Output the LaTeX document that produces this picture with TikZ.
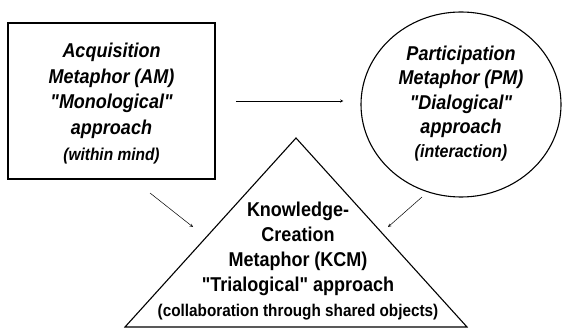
\documentclass[tikz,border=0pt]{standalone}
\usepackage{fontspec}
\setmainfont{Liberation Sans}[Ligatures=TeXOff, FakeStretch=0.9]
\usepackage{tikz}
\usetikzlibrary{shapes.geometric, arrows, positioning, calc}

\tikzstyle{metabox} = [rectangle, minimum width=207pt, minimum height=156pt, inner sep=0pt, align=center, draw=black, line width=1.6pt, text height=123pt, text depth=4pt, font=\fontsize{20}{25.75}\selectfont\bfseries\itshape]
\tikzstyle{metacircle} = [ellipse, minimum width=200pt, minimum height=185pt, inner sep=0pt, align=center, draw=black, line width=1.1pt, text height=110.2pt, text depth=3.4pt, font=\fontsize{20}{24.3}\selectfont\bfseries\itshape]
\tikzstyle{metatext} = [align=center, inner sep=0pt, text height=114pt, text depth=3.4pt, font=\fontsize{20}{25}\selectfont\bfseries]
\tikzstyle{arrow} = [line width=0.5pt,->,>=stealth]

\begin{document}
\begin{tikzpicture}[x=1pt, y=-1pt]
\useasboundingbox (0,0) rectangle (562,331);

\node (am) [metabox] at (111.5,101) {Acquisition\\Metaphor (AM)\\"Monological"\\approach\\{\fontsize{17.2}{25.75}\selectfont (within mind)}};
\node (pm) [metacircle] at (461,104.5) {Participation\\Metaphor (PM)\\"Dialogical"\\approach\\{\fontsize{17.8}{24.3}\selectfont (interaction)}};

% triangle for the knowledge-creation metaphor
\coordinate (top) at (296,138);
\coordinate (bl) at (125,327);
\coordinate (br) at (467,327);
\draw [line width=1.1pt, line join=miter] (top) -- (bl) -- (br) -- cycle;
\node (kcm) [metatext] at (298,260.7) {Knowledge-\\Creation\\Metaphor (KCM)\\"Trialogical" approach\\{\fontsize{17}{25}\selectfont (collaboration through shared objects)}};

\coordinate (amout) at (150,193);
\coordinate (amin) at (193,227);
\coordinate (pmout) at (422,197);
\coordinate (pmin) at (388,227);

\draw [arrow, shorten <=20pt, shorten >=17pt] (am.east) -- (am.east -| pm.west);
\draw [arrow] (amout) -- (amin);
\draw [arrow] (pmout) -- (pmin);
\end{tikzpicture}
\end{document}
